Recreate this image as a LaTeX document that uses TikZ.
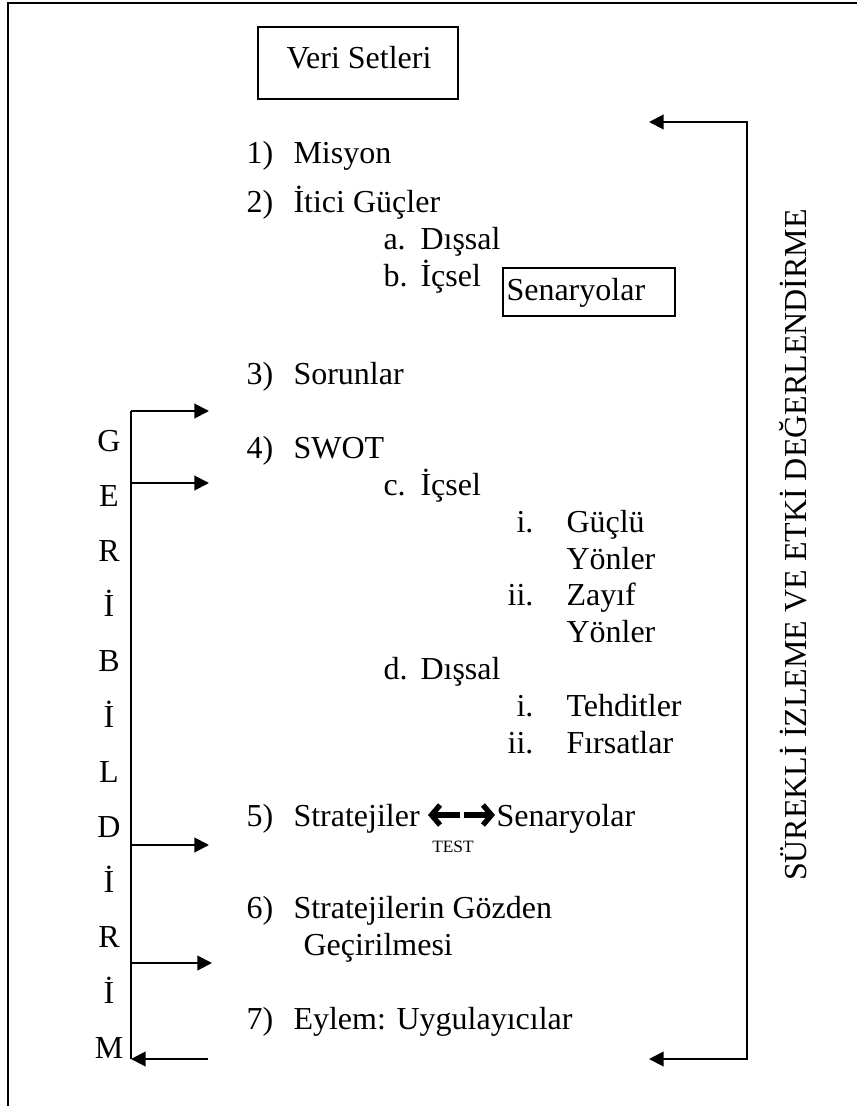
\documentclass[tikz,border=0pt]{standalone}
\usepackage{fontspec}
\setmainfont{Liberation Serif}
\usetikzlibrary{arrows.meta}
\begin{document}
\begin{tikzpicture}[x=0.375pt,y=-0.375pt,
  every node/.style={font=\fontsize{12}{14}\selectfont, inner sep=0pt},
  txt/.style={anchor=base west},
  num/.style={anchor=base west},
  lett/.style={anchor=base},
  boxed/.style={draw, line width=0.75pt},
  conn/.style={line width=0.75pt, -{Triangle[length=5.5pt,width=5.5pt]}},
  plain/.style={line width=0.75pt},
  fat/.style={line width=2pt, -{Straight Barb[length=3.2pt,width=7.5pt,line width=2pt]}}
]
\useasboundingbox (0,0) rectangle (857,1106);
\begin{scope}
\clip (0,0) rectangle (857,1106);
\draw[line width=0.75pt] (8,3) rectangle (900,1150);
\end{scope}

% Veri Setleri box
\draw[boxed] (258,27) rectangle (458,99);
\node[anchor=base] (veri) at (359,68) {Veri Setleri};

% Senaryolar box
\draw[boxed] (503,268) rectangle (675,316);
\node[anchor=base west] (sen) at (506,300) {Senaryolar};

% main list
\node[num] (n1) at (246,163) {1)};
\node[txt] (t1) at (293,163) {Misyon};
\node[num] (n2) at (246,212) {2)};
\node[txt] (t2) at (293,212) {İtici Güçler};
\node[num] (na) at (383,249) {a.};
\node[txt] (ta) at (420,249) {Dışsal};
\node[num] (nb) at (383,286) {b.};
\node[txt] (tb) at (420,286) {İçsel};
\node[num] (n3) at (246,384) {3)};
\node[txt] (t3) at (293,384) {Sorunlar};
\node[num] (n4) at (246,458) {4)};
\node[txt] (t4) at (293,458) {SWOT};
\node[num] (nc) at (383,495) {c.};
\node[txt] (tc) at (420,495) {İçsel};
\node[anchor=base east] (ni1) at (534,532) {i.};
\node[txt] (ti1) at (566,532) {Güçlü};
\node[txt] (ti1b) at (566,569) {Yönler};
\node[anchor=base east] (nii1) at (534,605) {ii.};
\node[txt] (tii1) at (566,605) {Zayıf};
\node[txt] (tii1b) at (566,642) {Yönler};
\node[num] (nd) at (383,679) {d.};
\node[txt] (td) at (420,679) {Dışsal};
\node[anchor=base east] (ni2) at (534,716) {i.};
\node[txt] (ti2) at (566,716) {Tehditler};
\node[anchor=base east] (nii2) at (534,753) {ii.};
\node[txt] (tii2) at (566,753) {Fırsatlar};
\node[num] (n5) at (246,826) {5)};
\node[txt] (t5) at (293,826) {Stratejiler};
\node[txt] (t5b) at (496,826) {Senaryolar};
\node[anchor=base, font=\fontsize{6.5}{7}\selectfont] (test) at (453,852) {TEST};
\node[num] (n6) at (246,918) {6)};
\node[txt] (t6) at (293,918) {Stratejilerin Gözden};
\node[txt] (t6b) at (303,955) {Geçirilmesi};
\node[num] (n7) at (246,1029) {7)};
\node[txt] (t7) at (293,1029) {Eylem: Uygulayıcılar};

% fat double arrows
\coordinate (fa) at (462,815);
\coordinate (fl) at (428,815);
\coordinate (fr) at (495,815);
\draw[fat] ([xshift=-0.6pt]fa) -- (fl);
\draw[fat] ([xshift=0.6pt]fa) -- (fr);

% GERIBILDIRIM letters
\foreach \l [count=\i from 0] in {G,E,R,İ,B,İ,L,D,İ,R,İ,M}{
  \node[lett] (g\i) at (109,{451+55.2*\i}) {\l};
}

% left feedback connector
\coordinate (lt) at (131,411);
\coordinate (lb) at (131,1059);
\draw[plain] (lt) -- (lb);
\coordinate (a1) at (209,411);
\coordinate (a2) at (209,483);
\coordinate (a3) at (209,845);
\coordinate (a4) at (212,963);
\coordinate (a5) at (208,1059);
\draw[conn] (lt) -- (a1);
\draw[conn] (131,483) -- (a2);
\draw[conn] (131,845) -- (a3);
\draw[conn] (131,963) -- (a4);
\draw[conn] (a5) -- (lb);

% right monitoring connector
\coordinate (rt) at (747,122);
\coordinate (rb) at (747,1059);
\coordinate (rta) at (649,122);
\coordinate (rba) at (649,1059);
\draw[conn] (rb) -- (rt) -- (rta);
\draw[conn] (rt) -- (rb) -- (rba);

\node[rotate=90, anchor=base] (mon) at (806,545) {SÜREKLİ İZLEME VE ETKİ DEĞERLENDİRME};
\end{tikzpicture}
\end{document}
